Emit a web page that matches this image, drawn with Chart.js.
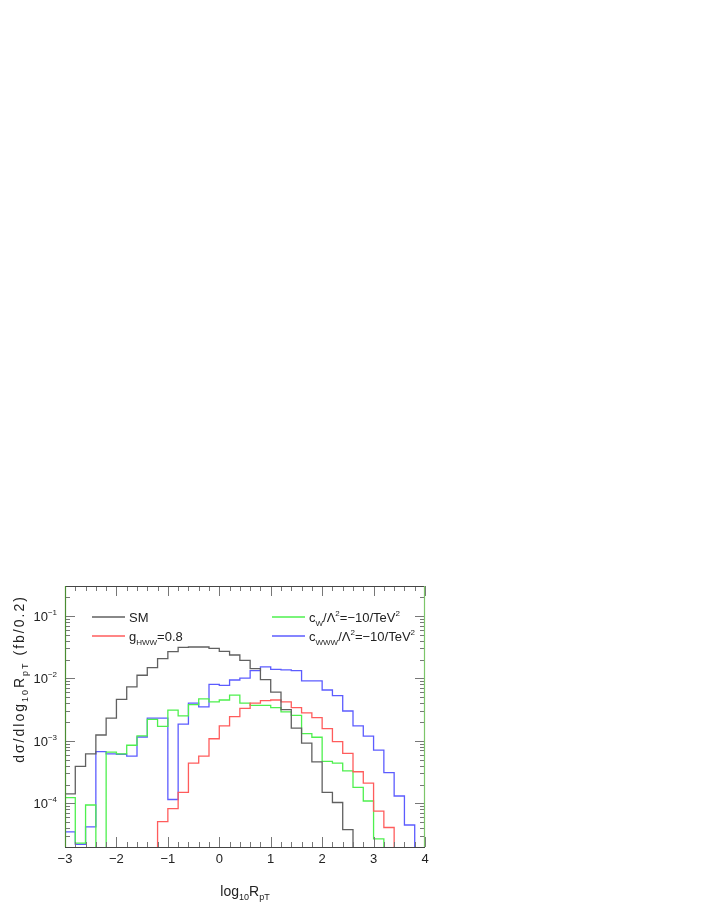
<!DOCTYPE html>
<html>
<head>
<meta charset="utf-8">
<script src="https://cdn.jsdelivr.net/npm/chart.js@4.4.1/dist/chart.umd.min.js"></script>
<style>
  html, body { margin: 0; padding: 0; background: #fff; }
  #wrap { position: relative; width: 706px; height: 913px; }
</style>
</head>
<body>
<div id="wrap"><canvas id="histChart" width="706" height="913"></canvas></div>
<script>
// bin edges of log10 R_pT, width 0.2
const binEdges = [-3.0, -2.8, -2.6, -2.4, -2.2, -2.0, -1.8, -1.6, -1.4, -1.2,
  -1.0, -0.8, -0.6, -0.4, -0.2, 0.0, 0.2, 0.4, 0.6, 0.8,
  1.0, 1.2, 1.4, 1.6, 1.8, 2.0, 2.2, 2.4, 2.6, 2.8,
  3.0, 3.2, 3.4, 3.6, 3.8, 4.0];

// per-bin values (fb/0.2), null = empty bin
const smValues = [1.42e-4, 3.9e-4, 6.2e-4, 1.24e-3, 2.3e-3, 4.6e-3, 7.3e-3, 1.12e-2, 1.48e-2, 2.07e-2,
  2.67e-2, 3.13e-2, 3.17e-2, 3.17e-2, 3.02e-2, 2.7e-2, 2.36e-2, 1.94e-2, 1.43e-2, 9.5e-3,
  6.0e-3, 3.15e-3, 1.6e-3, 9.2e-4, 4.6e-4, 1.5e-4, 1.03e-4, 3.8e-5, null, null,
  null, null, null, null, null];
const hwwValues = [null, null, null, null, null, null, null, null, null, 5.1e-5,
  8.2e-5, 1.5e-4, 4.4e-4, 5.7e-4, 1.08e-3, 1.73e-3, 2.44e-3, 3.3e-3, 4.0e-3, 4.4e-3,
  4.5e-3, 4.2e-3, 3.4e-3, 2.8e-3, 2.35e-3, 1.57e-3, 9.7e-4, 6.3e-4, 3.2e-4, 2.1e-4,
  7.5e-5, 4.1e-5, null, null, null];
const cwValues = [1.23e-4, 2.3e-5, 9.4e-5, null, 6.6e-4, 6.2e-4, 8.5e-4, 1.2e-3, 2.2e-3, 1.7e-3,
  3.1e-3, 2.5e-3, 3.8e-3, 4.7e-3, 4.2e-3, 4.5e-3, 5.4e-3, 4.0e-3, 3.7e-3, 3.7e-3,
  3.4e-3, 2.9e-3, 2.56e-3, 1.3e-3, 1.14e-3, 4.7e-4, 4.4e-4, 3.3e-4, 1.8e-4, 1.09e-4,
  2.7e-5, null, null, null, null];
const cwwwValues = [3.5e-5, 2.2e-5, 4.2e-5, 6.7e-4, 6.2e-4, 6.1e-4, 5.7e-4, 1.15e-3, 2.3e-3, 2.3e-3,
  1.15e-4, 1.85e-3, 4.0e-3, 3.5e-3, 8.0e-3, 7.7e-3, 9.4e-3, 1.01e-2, 1.33e-2, 1.53e-2,
  1.39e-2, 1.36e-2, 1.33e-2, 9.1e-3, 9.1e-3, 6.5e-3, 5.3e-3, 3.0e-3, 1.73e-3, 1.19e-3,
  7.1e-4, 3.1e-4, 1.31e-4, 4.5e-5, null];

const xTickValues = [-3, -2, -1, 0, 1, 2, 3, 4];
const yDecades = [1e-4, 1e-3, 1e-2, 1e-1];
const yDecadeLabels = ['\u22124', '\u22123', '\u22122', '\u22121'];
const yMinorSteps = [1, 2, 3, 4, 5, 6, 7, 8, 9];
const yMin = 2e-5, yMax = 0.3;

const FONT = '"Liberation Sans", Arial, sans-serif';
const EMPTY = 1e-8; // empty bins fall below the axis and get clipped

function histPoints(values) {
  const pts = [{ x: binEdges[0], y: EMPTY }];
  values.forEach((v, i) => pts.push({ x: binEdges[i], y: v === null ? EMPTY : v }));
  pts.push({ x: binEdges[binEdges.length - 1], y: EMPTY });
  return pts;
}

function histDataset(values, color) {
  return {
    data: histPoints(values),
    borderColor: color,
    borderWidth: 1.3,
    stepped: 'before',
    pointRadius: 0,
    tension: 0,
    fill: false,
  };
}

// text with sub/superscript pieces: [text, ''|'sub'|'sup']
function drawRich(ctx, parts, x, y, size, align) {
  const fontFor = k => (k ? Math.round(size * 0.64) : size) + 'px ' + FONT;
  let total = 0;
  parts.forEach(([t, k]) => { ctx.font = fontFor(k); total += ctx.measureText(t).width; });
  let cx = align === 'center' ? x - total / 2 : align === 'right' ? x - total : x;
  ctx.textAlign = 'left';
  ctx.textBaseline = 'alphabetic';
  parts.forEach(([t, k]) => {
    ctx.font = fontFor(k);
    const dy = k === 'sub' ? size * 0.28 : k === 'sup' ? -size * 0.45 : 0;
    ctx.fillText(t, cx, y + dy);
    cx += ctx.measureText(t).width;
  });
}

const legendItems = [
  { color: '#606060', col: 0, row: 0, parts: [['SM', '']] },
  { color: '#ff5c5c', col: 0, row: 1, parts: [['g', ''], ['HWW', 'sub'], ['=0.8', '']] },
  { color: '#4ef04e', col: 1, row: 0, parts: [['c', ''], ['W', 'sub'], ['/\u039b', ''], ['2', 'sup'], ['=\u221210/TeV', ''], ['2', 'sup']] },
  { color: '#5c5cff', col: 1, row: 1, parts: [['c', ''], ['WWW', 'sub'], ['/\u039b', ''], ['2', 'sup'], ['=\u221210/TeV', ''], ['2', 'sup']] },
];

const decorations = {
  id: 'decorations',
  afterDatasetsDraw(chart) {
    const { ctx, chartArea: a, scales: { x, y } } = chart;
    ctx.save();

    // inward ticks on all four sides
    ctx.strokeStyle = '#777';
    ctx.lineWidth = 1;
    ctx.beginPath();
    binEdges.forEach(e => {
      const px = Math.round(x.getPixelForValue(e)) + 0.5;
      const len = Math.abs(e - Math.round(e)) < 1e-6 ? 10 : 5;
      ctx.moveTo(px, a.bottom); ctx.lineTo(px, a.bottom - len);
      ctx.moveTo(px, a.top); ctx.lineTo(px, a.top + len);
    });
    [1e-5, 1e-4, 1e-3, 1e-2, 1e-1].forEach(d => {
      yMinorSteps.forEach(m => {
        const v = m * d;
        if (v < yMin || v > yMax) return;
        const py = Math.round(y.getPixelForValue(v)) + 0.5;
        const len = m === 1 ? 10 : 5;
        ctx.moveTo(a.left, py); ctx.lineTo(a.left + len, py);
        ctx.moveTo(a.right, py); ctx.lineTo(a.right - len, py);
      });
    });
    ctx.stroke();

    // frame
    ctx.lineWidth = 1.2;
    ctx.strokeStyle = '#444';
    ctx.beginPath();
    ctx.moveTo(a.left, a.top + 0.5); ctx.lineTo(a.right, a.top + 0.5);
    ctx.moveTo(a.left, a.bottom + 0.5); ctx.lineTo(a.right, a.bottom + 0.5);
    ctx.stroke();
    ctx.strokeStyle = '#4a8c32';
    ctx.beginPath(); ctx.moveTo(a.left + 0.5, a.top); ctx.lineTo(a.left + 0.5, a.bottom); ctx.stroke();
    ctx.strokeStyle = '#7cc66a';
    ctx.beginPath(); ctx.moveTo(a.right - 0.5, a.top); ctx.lineTo(a.right - 0.5, a.bottom); ctx.stroke();

    // y tick labels 10^n
    ctx.fillStyle = '#222';
    yDecades.forEach((d, i) => {
      const py = y.getPixelForValue(d);
      drawRich(ctx, [['10', ''], [yDecadeLabels[i], 'sup']], a.left - 8, py + 5, 13, 'right');
    });

    // legend
    legendItems.forEach(it => {
      const lx = it.col === 0 ? 92 : 272;
      const ly = 617 + it.row * 19;
      ctx.strokeStyle = it.color;
      ctx.lineWidth = 1.3;
      ctx.beginPath(); ctx.moveTo(lx, ly); ctx.lineTo(lx + 33, ly); ctx.stroke();
      ctx.fillStyle = '#222';
      drawRich(ctx, it.parts, lx + 37, ly + 5, 13, 'left');
    });

    // axis titles
    ctx.fillStyle = '#222';
    drawRich(ctx, [['log', ''], ['10', 'sub'], ['R', ''], ['pT', 'sub']], 245, 896, 14, 'center');
    ctx.translate(24, 679);
    ctx.rotate(-Math.PI / 2);
    ctx.letterSpacing = '2px';
    drawRich(ctx, [['d\u03c3/dlog', ''], ['10', 'sub'], ['R', ''], ['pT', 'sub'], [' (fb/0.2)', '']], 0, 0, 14, 'center');
    ctx.restore();
  }
};

new Chart(document.getElementById('histChart'), {
  type: 'line',
  data: {
    datasets: [
      histDataset(smValues, '#606060'),
      histDataset(hwwValues, '#ff5c5c'),
      histDataset(cwValues, '#4ef04e'),
      histDataset(cwwwValues, '#5c5cff'),
    ]
  },
  options: {
    responsive: false,
    animation: false,
    layout: { padding: { left: 0, top: 586, right: 281, bottom: 0 } },
    plugins: { legend: { display: false }, tooltip: { enabled: false } },
    scales: {
      x: {
        type: 'linear', min: -3, max: 4,
        grid: { display: false, drawTicks: false },
        border: { display: false },
        afterBuildTicks: s => { s.ticks = xTickValues.map(v => ({ value: v })); },
        afterFit: s => { s.height = 66; },
        ticks: {
          padding: 5, color: '#222', maxRotation: 0,
          font: { family: FONT, size: 13 },
          callback: v => String(v).replace('-', '\u2212'),
        },
      },
      y: {
        type: 'logarithmic', min: yMin, max: yMax,
        grid: { display: false, drawTicks: false },
        border: { display: false },
        ticks: { display: false },
        afterFit: s => { s.width = 65; },
      },
    },
  },
  plugins: [decorations],
});
</script>
</body>
</html>
